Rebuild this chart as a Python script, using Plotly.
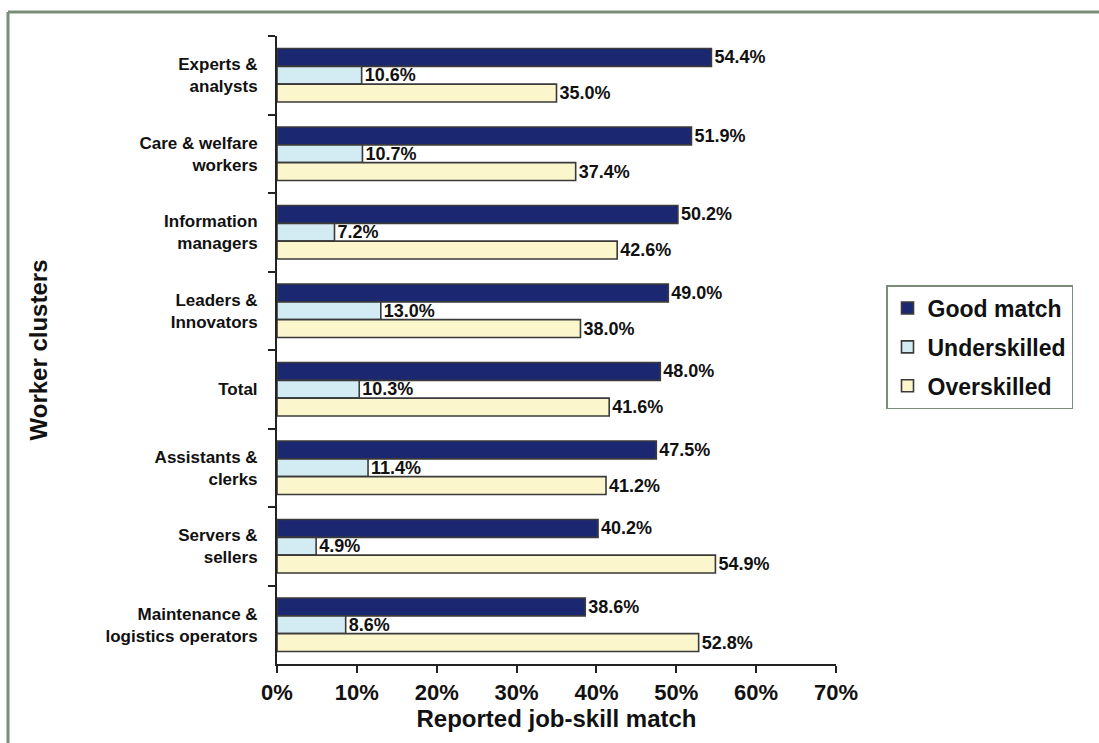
import plotly.graph_objects as go

# Worker clusters, listed top to bottom
clusters = [
    "Experts &<br>analysts",
    "Care & welfare<br>workers",
    "Information<br>managers",
    "Leaders &<br>Innovators",
    "Total",
    "Assistants &<br>clerks",
    "Servers &<br>sellers",
    "Maintenance &<br>logistics operators",
]

# Share of workers (%) per job-skill match outcome
good_match = [54.4, 51.9, 50.2, 49.0, 48.0, 47.5, 40.2, 38.6]
underskilled = [10.6, 10.7, 7.2, 13.0, 10.3, 11.4, 4.9, 8.6]
overskilled = [35.0, 37.4, 42.6, 38.0, 41.6, 41.2, 54.9, 52.8]

tick_vals = [0, 10, 20, 30, 40, 50, 60, 70]

FONT = "Liberation Sans, Arial, sans-serif"
W, H = 1099, 743
ML, MR, MT, MB = 277, 263, 36, 79

series = [
    ("Good match", good_match, "#1b2770"),
    ("Underskilled", underskilled, "#d3ebf3"),
    ("Overskilled", overskilled, "#fbf6cb"),
]

fig = go.Figure()
for name, vals, color in series:
    fig.add_trace(go.Bar(
        name=name,
        y=clusters,
        x=vals,
        orientation="h",
        legendgroup=name,
        marker=dict(color=color, line=dict(color="#3a3a3a", width=1.6)),
        text=vals,
        texttemplate="%{x:.1f}%",
        textposition="outside",
        constraintext="none",
        cliponaxis=False,
        textfont=dict(family=FONT, size=18, color="#111111", weight="bold"),
    ))

pw = W - ML - MR
ph = H - MT - MB


def px_x(p):
    return (p - ML) / pw


def px_y(p):
    return (H - MB - p) / ph


# Outer frame: top and left edges
frame = dict(color="#7a8d7b", width=3)
fig.add_shape(type="line", xref="paper", yref="paper",
              x0=px_x(8), x1=px_x(W + 5), y0=px_y(12), y1=px_y(12), line=frame)
fig.add_shape(type="line", xref="paper", yref="paper",
              x0=px_x(8), x1=px_x(8), y0=px_y(12), y1=px_y(H + 5), line=frame)

fig.update_layout(
    width=W, height=H,
    margin=dict(l=ML, r=MR, t=MT, b=MB),
    paper_bgcolor="white",
    plot_bgcolor="white",
    barmode="group",
    bargap=0.32,
    bargroupgap=0.0,
    font=dict(family=FONT, color="#111111"),
    legend=dict(
        x=px_x(886), y=px_y(285),
        xanchor="left", yanchor="top",
        bordercolor="#7a8d7b", borderwidth=1.5,
        bgcolor="white",
        font=dict(family=FONT, size=23, color="#111111", weight="bold"),
        tracegroupgap=6,
        itemwidth=30,
    ),
    xaxis=dict(
        range=[0, 70],
        tickvals=tick_vals,
        ticktext=[f"{v}%" for v in tick_vals],
        showgrid=False,
        zeroline=False,
        showline=True, linecolor="#222222", linewidth=2,
        ticks="outside", ticklen=7, tickwidth=2, tickcolor="#222222",
        ticklabelstandoff=1,
        tickfont=dict(family=FONT, size=22, color="#111111", weight="bold"),
        title=dict(text="Reported job-skill match", standoff=4,
                   font=dict(family=FONT, size=24, color="#111111", weight="bold")),
    ),
    yaxis=dict(
        type="category",
        autorange="reversed",
        showgrid=False,
        showline=True, linecolor="#222222", linewidth=2,
        ticks="outside", tickson="boundaries", ticklen=7, tickwidth=2,
        tickcolor="#222222",
        ticklabelstandoff=14,
        tickfont=dict(family=FONT, size=17, color="#111111", weight="bold"),
        title=dict(text="Worker clusters", standoff=51,
                   font=dict(family=FONT, size=24, color="#111111", weight="bold")),
    ),
)

fig.write_html("out.html")
